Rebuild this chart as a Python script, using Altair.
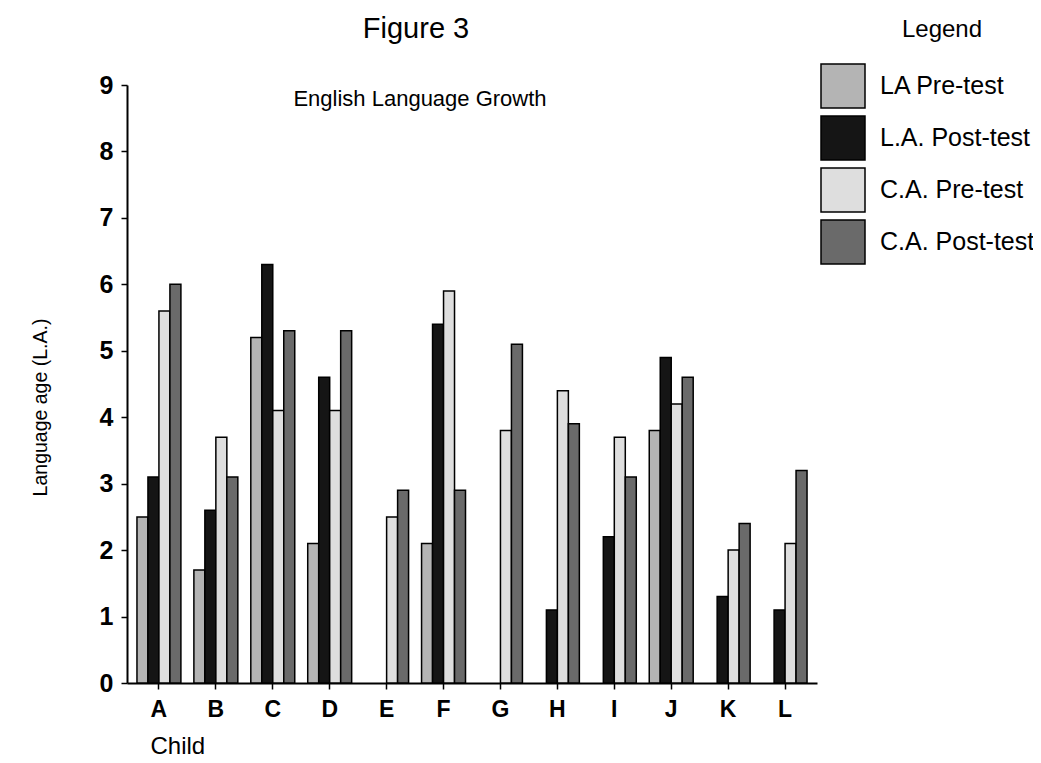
import altair as alt
import pandas as pd

children = ["A", "B", "C", "D", "E", "F", "G", "H", "I", "J", "K", "L"]
series = ["LA Pre-test", "L.A. Post-test", "C.A. Pre-test", "C.A. Post-test"]
la_pre = [2.5, 1.7, 5.2, 2.1, 0, 2.1, 0, 0, 0, 3.8, 0, 0]
la_post = [3.1, 2.6, 6.3, 4.6, 0, 5.4, 0, 1.1, 2.2, 4.9, 1.3, 1.1]
ca_pre = [5.6, 3.7, 4.1, 4.1, 2.5, 5.9, 3.8, 4.4, 3.7, 4.2, 2.0, 2.1]
ca_post = [6.0, 3.1, 5.3, 5.3, 2.9, 2.9, 5.1, 3.9, 3.1, 4.6, 2.4, 3.2]
colors = ["#b4b4b4", "#151515", "#dedede", "#6a6a6a"]
y_ticks = [0, 1, 2, 3, 4, 5, 6, 7, 8, 9]

rows = []
for s, vals in zip(series, [la_pre, la_post, ca_pre, ca_post]):
    for c, v in zip(children, vals):
        rows.append({"child": c, "series": s, "value": v})
df = pd.DataFrame(rows)

FONT = "Liberation Sans"

bars = alt.Chart(df).transform_filter("datum.value > 0").mark_bar(
    stroke="black", strokeWidth=1.5
).encode(
    x=alt.X("child:N", sort=children,
            scale=alt.Scale(paddingInner=0.228, paddingOuter=0.175),
            axis=alt.Axis(title="Child", labelAngle=0, labelFontSize=23, labelFontWeight="bold",
                          labelFont=FONT, labelColor="black", labelPadding=9,
                          tickSize=6, tickColor="black", tickWidth=1.5,
                          domainColor="black", domainWidth=2,
                          titleFont=FONT, titleFontSize=24, titleFontWeight="normal",
                          titleColor="black", titleAnchor="start", titleAlign="left",
                          titleX=23, titleY=63, titleBaseline="middle")),
    xOffset=alt.XOffset("series:N", sort=series, scale=alt.Scale(paddingInner=0, paddingOuter=0)),
    y=alt.Y("value:Q", scale=alt.Scale(domain=[0, 9], nice=False, zero=True),
            axis=alt.Axis(title="Language age (L.A.)", values=y_ticks, grid=False,
                          labelFontSize=25, labelFontWeight="bold", labelFont=FONT,
                          labelColor="black", labelPadding=8,
                          tickSize=6, tickColor="black", tickWidth=1.5,
                          domainColor="black", domainWidth=2,
                          titleFont=FONT, titleFontSize=19.5, titleFontWeight="normal",
                          titleColor="black", titleX=-87, titleY=322,
                          titleAngle=-90, titleAlign="center", titleBaseline="middle")),
    color=alt.Color("series:N", sort=series,
                    scale=alt.Scale(domain=series, range=colors),
                    legend=alt.Legend(title=None, orient="none", legendX=693, legendY=-22,
                                      symbolType="square", symbolSize=1936,
                                      symbolStrokeColor="black", symbolStrokeWidth=1.5,
                                      symbolOpacity=1, symbolOffset=0,
                                      labelFont=FONT, labelFontSize=25, labelColor="black",
                                      labelOffset=14, rowPadding=2, padding=0,
                                      labelLimit=300)),
)

texts = pd.DataFrame({
    "t": ["English Language Growth", "Figure 3", "Legend"],
})

sub = alt.Chart(texts.iloc[[0]]).mark_text(
    font=FONT, fontSize=22, color="black", align="center", baseline="middle"
).encode(text="t:N", x=alt.value(293), y=alt.value(14))

fig = alt.Chart(texts.iloc[[1]]).mark_text(
    font=FONT, fontSize=29, color="black", align="center", baseline="middle"
).encode(text="t:N", x=alt.value(289), y=alt.value(-56))

leg = alt.Chart(texts.iloc[[2]]).mark_text(
    font=FONT, fontSize=24, color="black", align="center", baseline="middle"
).encode(text="t:N", x=alt.value(815), y=alt.value(-55))

chart = alt.layer(bars, sub, fig, leg).properties(
    width=690, height=598,
    autosize=alt.AutoSizeParams(type="none"),
    padding={"left": 119, "top": 77, "right": 216, "bottom": 90},
).configure(background="white").configure_view(stroke=None, strokeWidth=0)

chart.save("out.html", embed_options={"renderer": "svg", "actions": False})
